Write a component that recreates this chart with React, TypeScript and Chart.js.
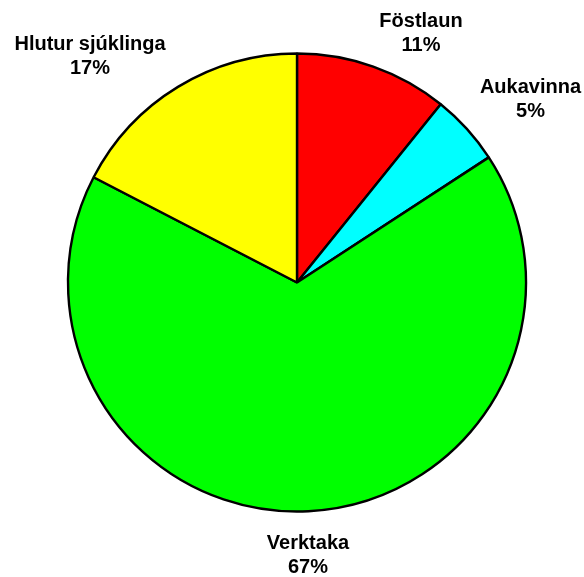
import React, { useEffect, useRef } from "react";
import { Chart, registerables } from "chart.js";

Chart.register(...registerables);

const categories = ["Föstlaun", "Aukavinna", "Verktaka", "Hlutur sjúklinga"];
const values = [10.8, 5.0, 66.8, 17.4];
const colors = ["#FF0000", "#00FFFF", "#00FF00", "#FFFF00"];
// label block centre offsets from pie centre (layout only)
const labelOffsets: [number, number][] = [
  [124, -251],
  [233.5, -184.5],
  [11, 271],
  [-207, -228],
];

const labelPlugin = {
  id: "outsideLabels",
  afterDatasetsDraw(chart: any) {
    const meta = chart.getDatasetMeta(0);
    const ctx = chart.ctx;
    const data = chart.data.datasets[0].data as number[];
    const total = data.reduce((a, b) => a + b, 0);
    ctx.save();
    ctx.font = "bold 20px 'Liberation Sans', Arial, sans-serif";
    ctx.fillStyle = "#000000";
    ctx.textAlign = "center";
    ctx.textBaseline = "alphabetic";
    meta.data.forEach((arc: any, i: number) => {
      const cx = arc.x;
      const cy = arc.y;
      const [dx, dy] = labelOffsets[i];
      const x = cx + dx;
      const y = cy + dy;
      const pct = Math.round((data[i] / total) * 100) + "%";
      ctx.fillText(chart.data.labels[i], x, y - 5);
      ctx.fillText(pct, x, y + 19);
    });
    ctx.restore();
  },
};

export default function App() {
  const ref = useRef<HTMLCanvasElement>(null);
  useEffect(() => {
    if (!ref.current) return;
    const chart = new Chart(ref.current, {
      type: "pie",
      data: {
        labels: categories,
        datasets: [
          {
            data: values,
            backgroundColor: colors,
            borderColor: "#000000",
            borderWidth: 2.4,
            hoverOffset: 0,
          },
        ],
      },
      options: {
        responsive: false,
        animation: false,
        radius: 229,
        layout: { padding: { left: 20, right: 10, top: 10, bottom: 22 } },
        plugins: {
          legend: { display: false },
          tooltip: { enabled: false },
        },
        events: [],
      } as any,
      plugins: [labelPlugin],
    });
    return () => chart.destroy();
  }, []);
  return (
    <div style={{ position: "absolute", left: 0, top: 0, width: 584, height: 577, background: "#fff" }}>
      <canvas ref={ref} width={584} height={577} style={{ width: 584, height: 577, display: "block" }} />
    </div>
  );
}
